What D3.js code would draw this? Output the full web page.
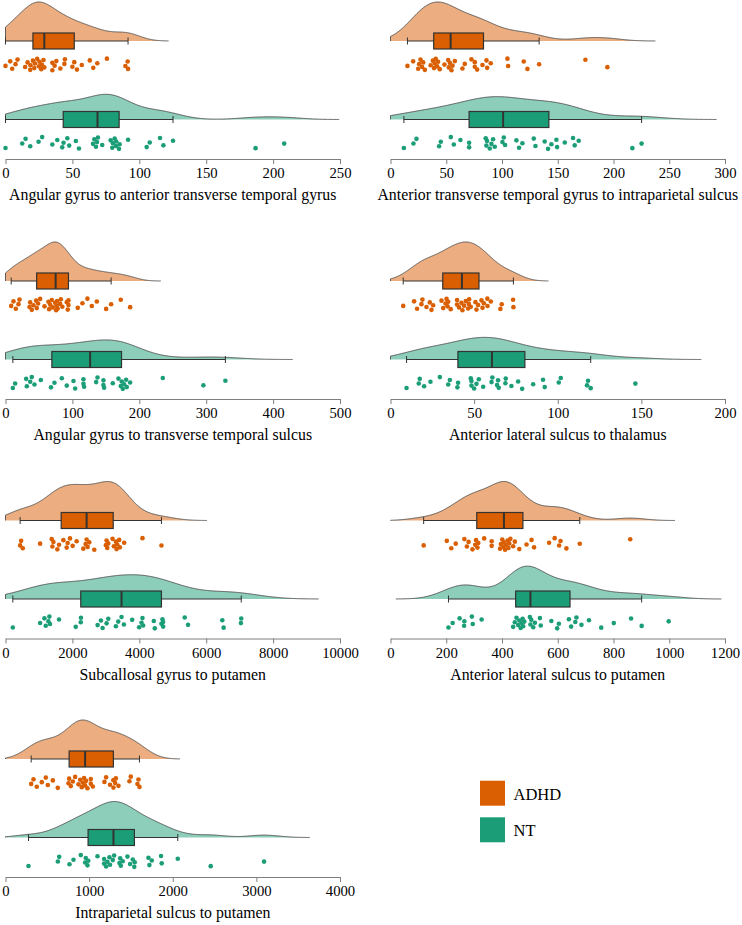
<!DOCTYPE html>
<html><head><meta charset="utf-8">
<script src="https://cdn.jsdelivr.net/npm/d3@7"></script>
<style>
body{margin:0;background:#fff}
svg{display:block}
text{font-family:"Liberation Serif","Times New Roman",serif;fill:#000}
</style>
</head><body><svg id="c" width="742" height="925"></svg>
<script>
// ---------- data ----------
const groups = ["ADHD", "NT"];
const titles = [
  "Angular gyrus to anterior transverse temporal gyrus",
  "Anterior transverse temporal gyrus to intraparietal sulcus",
  "Angular gyrus to transverse temporal sulcus",
  "Anterior lateral sulcus to thalamus",
  "Subcallosal gyrus to putamen",
  "Anterior lateral sulcus to putamen",
  "Intraparietal sulcus to putamen"
];
const ticks1 = [0, 50, 100, 150, 200, 250];
const ticks2 = [0, 50, 100, 150, 200, 250, 300];
const ticks3 = [0, 100, 200, 300, 400, 500];
const ticks4 = [0, 50, 100, 150, 200];
const ticks5 = [0, 2000, 4000, 6000, 8000, 10000];
const ticks6 = [0, 200, 400, 600, 800, 1000, 1200];
const ticks7 = [0, 1000, 2000, 3000, 4000];

const adhd1 = [0, 3.5, 5, 7.5, 9, 14.7, 16.5, 18.5, 18.7, 20.5, 21.5, 22, 23.7, 25, 25.4, 26.7, 27.2, 28.4, 29, 35, 35, 36.7, 38, 41, 44, 44.4, 50, 51.4, 53.4, 57, 63, 65.6, 68.6, 75.8, 89.6, 91.3, 91.6];
const nt1 = [0, 12.5, 15, 18.5, 24.7, 27.4, 35, 38.7, 42.4, 43.4, 46.2, 47.6, 52.6, 54.9, 65.4, 66.4, 67.6, 68.4, 69.1, 72.3, 78.6, 79.8, 80.3, 81.6, 82.6, 82.8, 84.8, 85.3, 91.6, 105.5, 107.8, 115.5, 118, 125.2, 186.9, 208.3];
const adhd2 = [15.2, 20.3, 24.8, 25.7, 26.9, 28.4, 29.3, 30.8, 36, 38, 39, 39.7, 40.6, 41.8, 42.7, 44.2, 48.4, 51.7, 52.3, 53.2, 54.7, 55.6, 57.7, 64.5, 66.6, 72.6, 75.6, 75.6, 77.7, 82.5, 86.1, 86.7, 89.9, 104.9, 105.5, 119.5, 122.8, 133.3, 174.8, 194.5];
const nt2 = [12, 20.6, 23.3, 43.6, 45.1, 54.1, 56.8, 62.7, 70.5, 70.5, 85.4, 86, 86.6, 89, 90.5, 92, 93.5, 100.4, 101.6, 102.8, 112.9, 115.3, 118.3, 128.5, 130, 138.3, 141.3, 144.3, 148.8, 149.4, 156.3, 163.7, 165.2, 168.8, 216.9, 225.2];
const adhd3 = [8.5, 11.9, 15.4, 19.4, 20.9, 35.9, 36.9, 39.3, 41.8, 45.8, 46.8, 48.8, 51.8, 58.3, 64.2, 65.2, 66.7, 69.2, 70.7, 74.2, 75.7, 76.5, 77, 78, 81.7, 82.7, 85, 91.6, 93.1, 94.1, 94.1, 108, 115, 122.5, 129, 136.5, 150.4, 157.9, 172.3, 186.3];
const nt3 = [11, 14.4, 30.9, 31.9, 36.9, 39.3, 43.3, 52.8, 68, 73.2, 84.2, 91.6, 101.6, 104.1, 116.5, 116.5, 117.5, 135.5, 137.5, 146.4, 146.4, 147.4, 160.4, 168.8, 172.3, 173.8, 175.3, 177.3, 180.3, 181.3, 186.3, 235.1, 295.8, 328.7];
const adhd4 = [7.6, 14.1, 15.9, 18.5, 19.1, 21.5, 23.5, 24.5, 25.5, 30.5, 31.5, 32.9, 33.5, 34.1, 34.5, 36, 39.8, 39.8, 41, 42.4, 43, 44, 45, 46.4, 46.8, 47, 48, 50.8, 51.4, 52.4, 54.4, 55, 55.8, 57.9, 58, 60, 65.7, 66.5, 73.3, 73.5];
const nt4 = [9.6, 16.9, 17.5, 20.1, 23.9, 29.5, 34.5, 35.5, 40, 40.4, 48, 48.4, 48.4, 50, 51.4, 52.8, 55.4, 60.4, 60.9, 63.7, 64.3, 64.7, 68.7, 68.9, 72.3, 76.3, 78.7, 85.3, 91.2, 92.2, 100.6, 101.8, 117.5, 118.1, 119.7, 146.4];
const adhd5 = [437, 467, 517, 1034, 1382, 1402, 1432, 1550, 1600, 1730, 1829, 1859, 1928, 2008, 2127, 2326, 2395, 2425, 2455, 2505, 2654, 3002, 3022, 3042, 3072, 3200, 3240, 3300, 3320, 3340, 3399, 3419, 3548, 4095, 4662];
const nt5 = [219, 1034, 1163, 1203, 1282, 1312, 1332, 1600, 2100, 2250, 2256, 2753, 2853, 2903, 3022, 3072, 3300, 3370, 3469, 3539, 3787, 3996, 4066, 4095, 4115, 4433, 4463, 4662, 4692, 4712, 4712, 5358, 5457, 6481, 6521, 7038, 7048];
const adhd6 = [119, 202, 218, 234, 265, 274, 280, 294, 304, 307, 312, 315, 336, 363, 363, 393, 396, 401, 405, 407, 411, 414, 420, 423, 426, 430, 440, 446, 462, 488, 506, 515, 569, 589, 605, 610, 631, 679, 860];
const nt6 = [208, 223, 248, 264, 265, 292, 295, 327, 440, 446, 452, 458, 462, 467, 470, 474, 476, 480, 500, 502, 505, 512, 518, 536, 539, 577, 598, 604, 640, 648, 663, 667, 685, 712, 756, 801, 863, 901, 998];
const adhd7 = [307, 335, 374, 434, 482, 506, 566, 625, 753, 761, 781, 805, 833, 873, 893, 912, 924, 940, 952, 964, 980, 1020, 1020, 1044, 1183, 1203, 1250, 1290, 1291, 1311, 1320, 1351, 1482, 1498, 1578, 1590, 1602];
const nt7 = [275, 626, 642, 765, 813, 900, 952, 960, 980, 990, 1100, 1179, 1179, 1203, 1219, 1243, 1250, 1283, 1299, 1363, 1371, 1379, 1402, 1458, 1490, 1522, 1540, 1545, 1709, 1721, 1749, 1860, 1868, 2060, 2454, 3092];

const tickSets = [ticks1, ticks2, ticks3, ticks4, ticks5, ticks6, ticks7];
const adhdSets = [adhd1, adhd2, adhd3, adhd4, adhd5, adhd6, adhd7];
const ntSets = [nt1, nt2, nt3, nt4, nt5, nt6, nt7];

// ---------- style / layout ----------
const fillColor = {ADHD: "#D95F02", NT: "#1B9E77"};
const cloudColor = {ADHD: "#ECAE80", NT: "#8DCEBB"};
const colRange = [[5.5, 340], [390.5, 725]];
const axisY = [159, 399, 638.5, 877];
const baseOffset = {ADHD: -118, NT: -39.5};
const cloudMax = 39;
const boxHalf = 8;

const svg = d3.select("#c");

function bandwidth(v) {
  const s = v.slice().sort(d3.ascending);
  const sd = d3.deviation(s);
  const iqr = d3.quantile(s, 0.75) - d3.quantile(s, 0.25);
  const lo = Math.min(sd, iqr / 1.34);
  return 0.9 * lo * Math.pow(s.length, -0.2);
}
function kde(v, bw, lo, hi) {
  const n = 400, out = [];
  const k = 1 / (Math.sqrt(2 * Math.PI) * bw * v.length);
  for (let i = 0; i <= n; i++) {
    const x = lo + (hi - lo) * i / n;
    let s = 0;
    for (const d of v) { const u = (x - d) / bw; s += Math.exp(-0.5 * u * u); }
    out.push([x, s * k]);
  }
  return out;
}

titles.forEach((title, i) => {
  const col = i % 2, row = Math.floor(i / 2);
  const ay = axisY[row];
  const ticks = tickSets[i];
  const x = d3.scaleLinear().domain([ticks[0], ticks[ticks.length - 1]]).range(colRange[col]);
  const g = svg.append("g");
  const sets = {ADHD: adhdSets[i], NT: ntSets[i]};

  const dens = {};
  let maxd = 0;
  groups.forEach(gr => {
    const v = sets[gr];
    const bw = bandwidth(v);
    const lo = Math.max(x.domain()[0], d3.min(v) - 3 * bw);
    const hi = Math.min(x.domain()[1], d3.max(v) + 3 * bw);
    dens[gr] = kde(v, bw, lo, hi);
    maxd = Math.max(maxd, d3.max(dens[gr], d => d[1]));
  });
  const h = d3.scaleLinear().domain([0, maxd]).range([0, cloudMax]);

  groups.forEach((gr, gi) => {
    const base = ay + baseOffset[gr];
    const v = sets[gr];
    const d = dens[gr];
    // cloud
    g.append("path")
      .attr("d", d3.area().x(p => x(p[0])).y0(base).y1(p => base - h(p[1]))(d))
      .attr("fill", cloudColor[gr]);
    const pts = [[d[0][0], 0]].concat(d, [[d[d.length - 1][0], 0]]);
    g.append("path")
      .attr("d", d3.line().x(p => x(p[0])).y(p => base - h(p[1]))(pts))
      .attr("fill", "none").attr("stroke", "#4d4d4d").attr("stroke-width", 0.9);

    // box stats
    const s = v.slice().sort(d3.ascending);
    const q1 = d3.quantile(s, 0.25), med = d3.quantile(s, 0.5), q3 = d3.quantile(s, 0.75);
    const iqr = q3 - q1;
    const wlo = d3.min(s.filter(t => t >= q1 - 1.5 * iqr));
    const whi = d3.max(s.filter(t => t <= q3 + 1.5 * iqr));
    g.append("line").attr("x1", x(wlo)).attr("x2", x(whi)).attr("y1", base).attr("y2", base)
      .attr("stroke", "#333").attr("stroke-width", 1);
    [wlo, whi].forEach(w => g.append("line").attr("x1", x(w)).attr("x2", x(w))
      .attr("y1", base - 3.5).attr("y2", base + 3.5).attr("stroke", "#333").attr("stroke-width", 1));
    g.append("rect").attr("x", x(q1)).attr("y", base - boxHalf)
      .attr("width", x(q3) - x(q1)).attr("height", 2 * boxHalf)
      .attr("fill", fillColor[gr]).attr("stroke", "#333").attr("stroke-width", 1.2);
    g.append("line").attr("x1", x(med)).attr("x2", x(med)).attr("y1", base - boxHalf).attr("y2", base + boxHalf)
      .attr("stroke", "#333").attr("stroke-width", 2);

    // rain
    const jy = d3.scaleLinear().domain([0, 1]).range([base + 17.5, base + 29.5]);
    g.selectAll(null).data(v).enter().append("circle")
      .attr("cx", t => x(t))
      .attr("cy", (t, k) => jy(((k + 1) * 0.618034 + gi * 0.3) % 1))
      .attr("r", 2.3).attr("fill", fillColor[gr]);
  });

  // axis
  const ax = g.append("g").attr("transform", `translate(0,${ay})`)
    .call(d3.axisBottom(x).tickValues(ticks).tickFormat(d3.format("d")).tickSize(5).tickSizeOuter(0));
  ax.attr("font-family", null);
  ax.select(".domain").attr("stroke", "#7f7f7f");
  ax.selectAll(".tick line").attr("stroke", "#7f7f7f");
  ax.selectAll(".tick text").attr("y", 9).attr("font-size", "14.7px")
    .attr("font-family", "'Liberation Serif','Times New Roman',serif").attr("fill", "#000");
  g.append("text").attr("x", d3.mean(colRange[col])).attr("y", ay + 41)
    .attr("text-anchor", "middle").attr("font-size", "15.8px").text(title);
});

// legend
const legendY = [780.7, 817.3];
groups.forEach((gr, i) => {
  svg.append("rect").attr("x", 480).attr("y", legendY[i]).attr("width", 25).attr("height", 25)
    .attr("fill", fillColor[gr]);
  svg.append("text").attr("x", 513.5).attr("y", legendY[i] + 19).attr("font-size", "16.5px").text(gr);
});
</script>
</body></html>
